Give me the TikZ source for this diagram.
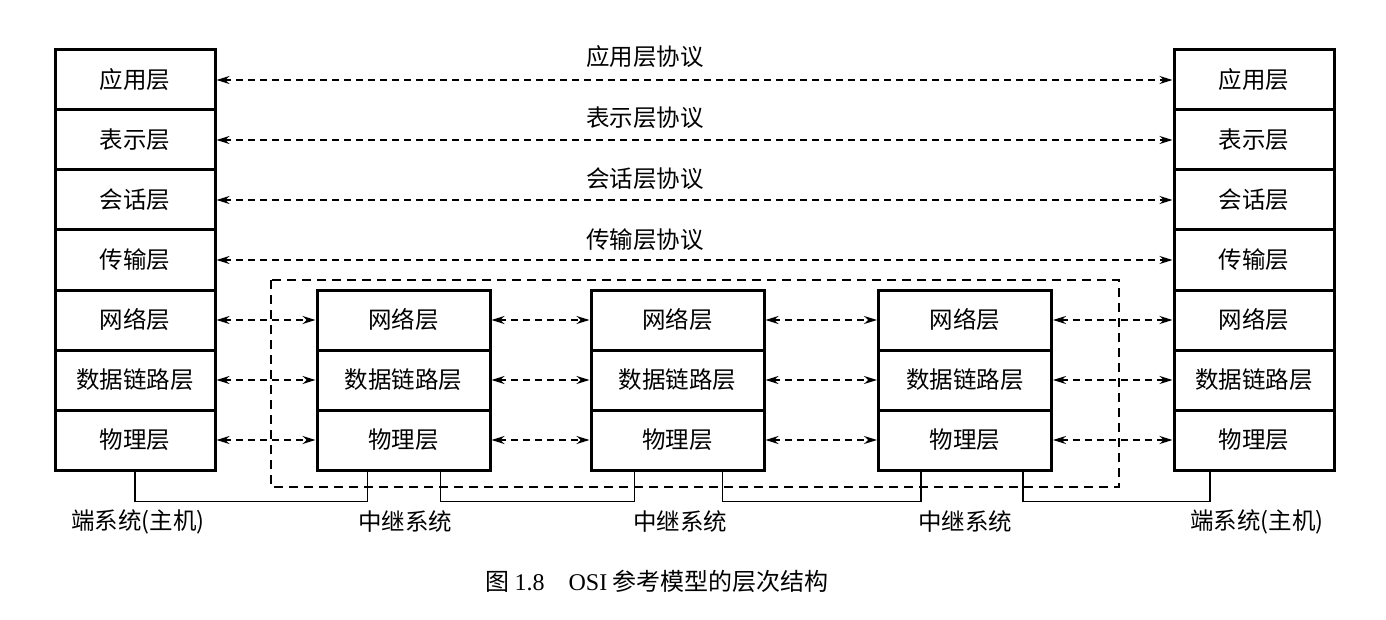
\documentclass[tikz,border=0pt]{standalone}
\usepackage{fontspec}
\setmainfont{Noto Sans CJK SC}
\newfontfamily\latinserif{Liberation Serif}
\usetikzlibrary{arrows.meta}

\begin{document}
\begin{tikzpicture}[x=1pt, y=-1pt,
        font = \fontsize{23.5}{23.5}\selectfont,
        layer/.style = {draw, line width=3pt, minimum width=160pt, minimum height=60pt, inner sep=0pt},
        relay/.style = {layer, minimum width=173pt},
        peer/.style = {{Stealth[length=13pt,width=8pt]}-{Stealth[length=13pt,width=8pt]}, line width=1.7pt, dash pattern=on 7pt off 5pt},
        group/.style = {line width=1.4pt, dash pattern=on 9pt off 6pt},
        wire/.style = {line width=1.4pt}]

    \useasboundingbox (0,0) rectangle (1386,620);

    % Relay group
    \draw[group] (271,280) rectangle (1119,487);

    % End systems
    \foreach \i/\t in {1/应用层,2/表示层,3/会话层,4/传输层,5/网络层,6/数据链路层,7/物理层} {
        \node[layer] (hL\i) at (135,20+60*\i) {\t};
        \node[layer] (hR\i) at (1254,20+60*\i) {\t};
    }

    % Relay systems
    \foreach \r/\x in {1/403.5,2/677.5,3/965} {
        \node[relay] (n\r) at (\x,320) {网络层};
        \node[relay] (d\r) at (\x,380) {数据链路层};
        \node[relay] (p\r) at (\x,440) {物理层};
    }

    % Peer protocols, upper layers
    \foreach \i/\t in {1/应用层协议,2/表示层协议,3/会话层协议,4/传输层协议} {
        \draw[peer] (hL\i.east) -- (hR\i.west);
        \node (proto\i) at (645,57+61*\i-61) {\t};
    }

    % Peer protocols, lower layers
    \foreach \i/\l in {5/n,6/d,7/p} {
        \draw[peer] (hL\i.east) -- (\l1.west);
        \draw[peer] (\l1.east) -- (\l2.west);
        \draw[peer] (\l2.east) -- (\l3.west);
        \draw[peer] (\l3.east) -- (hR\i.west);
    }

    % Physical media
    \draw[wire] (hL7.south) -- ++(0,30) -| ([xshift=-36pt]p1.south);
    \draw[wire] ([xshift=37pt]p1.south) -- ++(0,30) -| ([xshift=-43pt]p2.south);
    \draw[wire] ([xshift=45pt]p2.south) -- ++(0,30) -| ([xshift=-44pt]p3.south);
    \draw[wire] ([xshift=58pt]p3.south) -- ++(0,30) -| ([xshift=-44pt]hR7.south);

    % System labels
    \node (sysL) at (138,522) {端系统(主机)};
    \node (sys1) at (405,522) {中继系统};
    \node (sys2) at (680,522) {中继系统};
    \node (sys3) at (965,522) {中继系统};
    \node (sysR) at (1257,522) {端系统(主机)};

    % Caption
    \node[font=\fontsize{24}{24}\selectfont] (caption) at (657,581) {图 {\latinserif 1.8}\quad{\latinserif OSI} 参考模型的层次结构};

\end{tikzpicture}
\end{document}
